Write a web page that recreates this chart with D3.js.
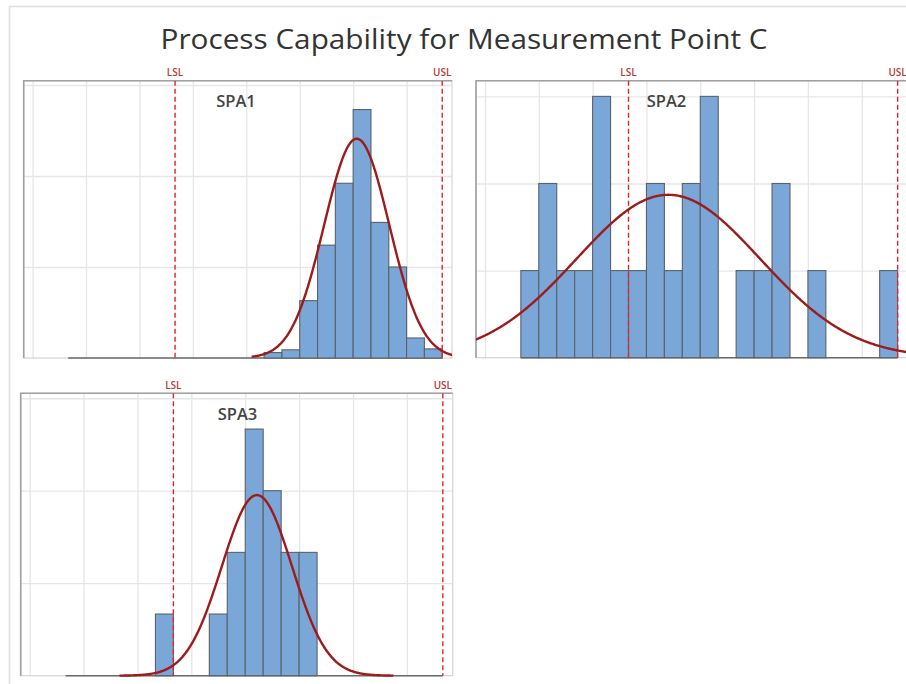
<html lang="en">
  <head>
    <meta charset="utf-8">
    <script src="https://d3js.org/d3.v7.js"></script>
    <style>
      body { margin: 0; background: #fff; }
      text { font-family: "Open Sans", "Noto Sans", sans-serif; }
    </style>
  </head>
  <body>
    <svg id="chart" width="906" height="684"></svg>
    <script>
      // values (x in bin units, bins are 1 wide)
      var panelNames = ["SPA1", "SPA2", "SPA3"];
      var lsl = 38, usl = 53;
      var xTicks = [30, 33, 36, 39, 42, 45, 48, 51];
      var binStart = 32;   // first (empty) bin; last bin ends at 53

      // bar heights per bin, bins 32..52
      var spa1 = [0, 0, 0, 0, 0, 0, 0, 0, 0, 0, 0, 0.6, 0.9, 6.3, 12.4, 19.2, 27.3, 14.9, 10.0, 2.2, 1.0];
      var spa2 = [1, 2, 1, 1, 3, 1, 1, 2, 1, 2, 3, 0, 1, 1, 2, 0, 1, 0, 0, 0, 1];
      var spa3 = [0, 0, 0, 0, 0, 1, 0, 0, 1, 2, 4, 3, 2, 2, 0, 0, 0, 0, 0, 0, 0];

      var yTicks1 = [10, 20, 30];
      var yTicks2 = [1, 2, 3];
      var yTicks3 = [1.5, 3, 4.5];
      var yMax = [30.47, 3.18, 4.58];

      // fitted normal curves: mean, sd, peak height, drawn range
      var fitMean = [48.2, 40.22, 42.65];
      var fitSd = [1.83, 5.12, 1.95];
      var fitPeak = [24.1, 1.87, 2.93];
      var fitRange = [[42.3, 54.5], [20, 60], [35.0, 50.3]];

      var svg = d3.select("svg#chart");

      // outer light frame
      svg.append("path")
        .attr("d", "M9.5,684 V6.5 H906")
        .attr("fill", "none")
        .attr("stroke", "#e0e0e0")
        .attr("stroke-width", 1.5);

      svg.append("text")
        .attr("x", 464)
        .attr("y", 49)
        .attr("text-anchor", "middle")
        .attr("fill", "#333")
        .attr("textLength", 607)
        .attr("lengthAdjust", "spacingAndGlyphs")
        .style("font-size", "27.5px")
        .style("font-weight", 500)
        .text("Process Capability for Measurement Point C");

      var panels = [
        {name: panelNames[0], counts: spa1, yTicks: yTicks1, x0: 23.7, x1: 452, y0: 80.7, y1: 358, labelX: 236, i: 0},
        {name: panelNames[1], counts: spa2, yTicks: yTicks2, x0: 476, x1: 907.5, y0: 80.7, y1: 357.7, labelX: 666.5, i: 1},
        {name: panelNames[2], counts: spa3, yTicks: yTicks3, x0: 20.7, x1: 452.7, y0: 393.3, y1: 675.7, labelX: 237.5, i: 2}
      ];

      panels.forEach(function(p) {
        var w = p.x1 - p.x0, h = p.y1 - p.y0;
        var g = svg.append("g").attr("transform", `translate(${p.x0}, ${p.y0})`);

        var xScale = d3.scaleLinear().domain([29.5, 53.55]).range([0, w]);
        var yScale = d3.scaleLinear().domain([0, yMax[p.i]]).range([h, 0]);

        var clipId = "clip" + p.i;
        g.append("clipPath").attr("id", clipId)
          .append("rect").attr("width", w).attr("height", h + 2);

        // grid
        g.append("g")
          .attr("class", "grid")
          .attr("transform", `translate(0, ${h})`)
          .call(d3.axisBottom(xScale).tickValues(xTicks).tickSize(-h).tickFormat(""));
        g.append("g")
          .attr("class", "grid")
          .call(d3.axisLeft(yScale).tickValues(p.yTicks).tickSize(-w).tickFormat(""));
        g.selectAll(".grid .domain").remove();
        g.selectAll(".grid line").attr("stroke", "#e6e6e6").attr("stroke-width", 1.3);

        // frame
        g.append("rect")
          .attr("width", w).attr("height", h)
          .attr("fill", "none")
          .attr("stroke", "#d4d4d4")
          .attr("stroke-width", 1.2);
        g.append("path")
          .attr("d", `M0,${h} V0 H${w}`)
          .attr("fill", "none")
          .attr("stroke", "#a0a0a0")
          .attr("stroke-width", 1.6);

        var bins = p.counts.map((c, k) => ({x: binStart + k, c: c}));

        var inner = g.append("g").attr("clip-path", `url(#${clipId})`);

        // empty bins show as a line along the base
        inner.append("line")
          .attr("x1", xScale(binStart))
          .attr("x2", xScale(binStart + p.counts.length))
          .attr("y1", yScale(0)).attr("y2", yScale(0))
          .attr("stroke", "#6b6b6b")
          .attr("stroke-width", 1.6);

        // histogram
        inner.selectAll("rect.bar")
          .data(bins.filter(d => d.c > 0))
          .enter()
          .append("rect")
          .attr("class", "bar")
          .attr("x", d => xScale(d.x))
          .attr("y", d => yScale(d.c))
          .attr("width", d => xScale(d.x + 1) - xScale(d.x))
          .attr("height", d => yScale(0) - yScale(d.c))
          .attr("fill", "#7ba6d8")
          .attr("stroke", "#58626c")
          .attr("stroke-width", 1.1);

        // spec limits
        [["LSL", lsl], ["USL", usl]].forEach(function(s) {
          inner.append("line")
            .attr("x1", xScale(s[1])).attr("x2", xScale(s[1]))
            .attr("y1", 0).attr("y2", h)
            .attr("stroke", "#e3242b")
            .attr("stroke-width", 1.4)
            .attr("stroke-dasharray", "5,3");
          g.append("text")
            .attr("x", xScale(s[1]))
            .attr("y", -4.5)
            .attr("text-anchor", "middle")
            .attr("fill", "#b23a3a")
            .style("font-size", "10px")
            .style("font-weight", 600)
            .text(s[0]);
        });

        // normal fit
        var m = fitMean[p.i], sd = fitSd[p.i], pk = fitPeak[p.i];
        var xs = d3.range(fitRange[p.i][0], fitRange[p.i][1], 0.05);
        var line = d3.line()
          .x(d => xScale(d))
          .y(d => yScale(pk * Math.exp(-0.5 * Math.pow((d - m) / sd, 2))))
          .curve(d3.curveBasis);
        inner.append("path")
          .datum(xs)
          .attr("d", line)
          .attr("fill", "none")
          .attr("stroke", "#9e1b1b")
          .attr("stroke-width", 2.4);

        svg.append("text")
          .attr("x", p.labelX)
          .attr("y", p.y0 + (p.i == 2 ? 27 : 26))
          .attr("text-anchor", "middle")
          .attr("fill", "#444")
          .style("font-size", "16.5px")
          .style("font-weight", 600)
          .text(p.name);
      });
    </script>
  </body>
</html>
